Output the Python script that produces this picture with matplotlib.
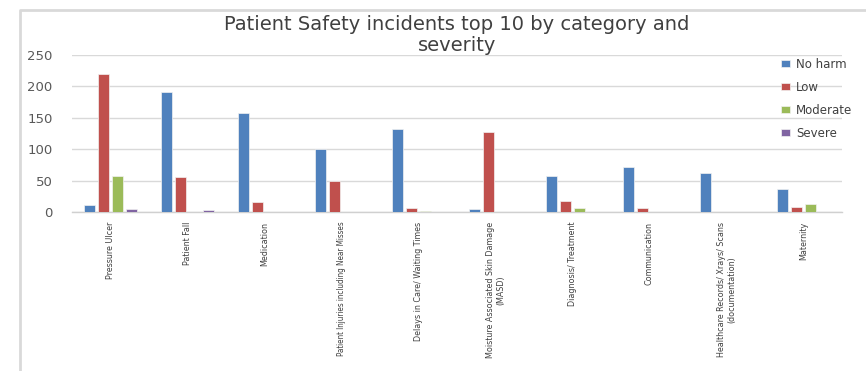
import numpy as np
import matplotlib
matplotlib.use("Agg")
import matplotlib.pyplot as plt
from matplotlib.lines import Line2D

categories = [
    "Pressure Ulcer",
    "Patient Fall",
    "Medication",
    "Patient Injuries including Near Misses",
    "Delays in Care/ Waiting Times",
    "Moisture Associated Skin Damage\n(MASD)",
    "Diagnosis/ Treatment",
    "Communication",
    "Healthcare Records/ Xrays/ Scans\n(documentation)",
    "Maternity",
]
no_harm = [11, 191, 157, 100, 132, 4, 58, 71, 62, 36]
low = [219, 56, 16, 49, 7, 128, 17, 7, 0, 8]
moderate = [57, 0, 0, 0, 2, 0, 6, 0, 0, 12]
severe = [5, 3, 0, 0, 0, 0, 0, 0, 0, 0]

series_names = ["No harm", "Low", "Moderate", "Severe"]
series_values = [no_harm, low, moderate, severe]
colors = ["#4F81BD", "#C0504D", "#9BBB59", "#8064A2"]
yticks = [0, 50, 100, 150, 200, 250]

W, H = 866, 371
fig = plt.figure(figsize=(W / 100, H / 100), dpi=100)
ax = fig.add_axes([72 / W, (H - 212) / H, (842 - 72) / W, (212 - 55) / H])

x = np.arange(len(categories))
pitch = 0.184
width = 0.14
for i, (name, vals, col) in enumerate(zip(series_names, series_values, colors)):
    ax.bar(x + (i - 1.5) * pitch, vals, width, color=col, label=name,
           edgecolor="#f2f2f2", linewidth=0.5, zorder=3)

ax.set_xlim(-0.5, len(categories) - 0.5)
ax.set_ylim(0, 250)
ax.set_yticks(yticks)
ax.yaxis.grid(True, color="#d9d9d9", linewidth=1, zorder=0)
ax.set_axisbelow(True)
for s in ["top", "right", "left"]:
    ax.spines[s].set_visible(False)
ax.spines["bottom"].set_color("#d0d0d0")
ax.spines["bottom"].set_linewidth(1)
ax.tick_params(axis="y", length=0, labelsize=9.5, labelcolor="#595959", pad=14)
ax.tick_params(axis="x", length=0, pad=7)
ax.set_xticks(x)
labels = ax.set_xticklabels(categories, rotation=90, fontsize=6.4, color="#404040",
                            family="DejaVu Sans", fontstretch="condensed")
# longest label would run off the bottom edge
labels[3].set_fontsize(5.8)

ax.set_title("Patient Safety incidents top 10 by category and\nseverity",
             fontsize=14, color="#404040", pad=2, linespacing=1.1)

leg = ax.legend(loc="upper left", bbox_to_anchor=(776 / W, (H - 53) / H),
                bbox_transform=fig.transFigure, frameon=False, fontsize=8.5,
                handlelength=0.8, handleheight=0.5, handletextpad=0.5,
                labelspacing=0.85, borderaxespad=0)
for t in leg.get_texts():
    t.set_color("#404040")

# outer chart border
fig.add_artist(Line2D([20 / W, 20 / W, 1.0], [0, (H - 10) / H, (H - 10) / H],
                      transform=fig.transFigure, color="#d9d9d9", linewidth=2))

fig.savefig("out.png", dpi=100)
